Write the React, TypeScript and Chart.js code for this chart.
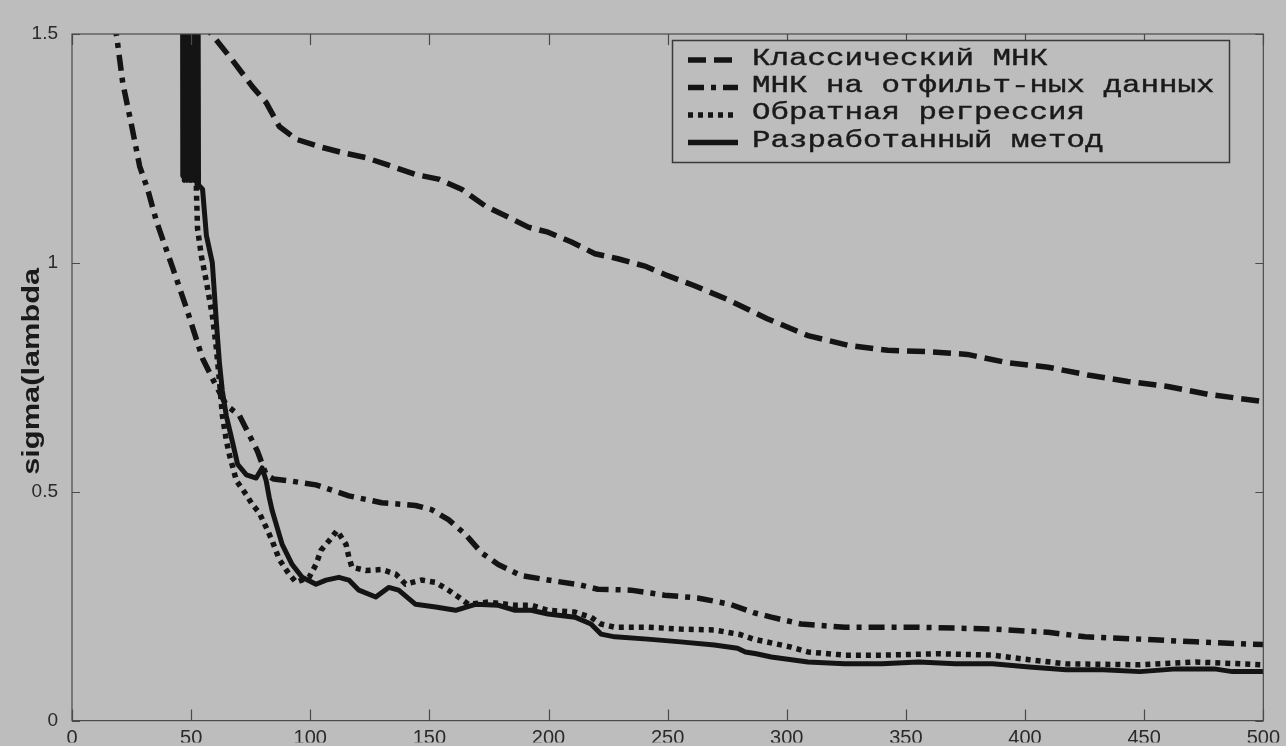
import React, { useEffect, useRef } from "react";
import { Chart, registerables } from "chart.js";

Chart.register(...registerables);

// ---- labels ----
const seriesLabels = [
  "Классический МНК",
  "МНК на отфильт-ных данных",
  "Обратная регрессия",
  "Разработанный метод",
];
const yAxisTitle = "sigma(lambda";

// ---- ticks ----
const xTickValues = [0, 50, 100, 150, 200, 250, 300, 350, 400, 450, 500];
const xTickLabels = ["0", "50", "100", "150", "200", "250", "300", "350", "400", "450", "500"];
const yTickValues = [0, 0.5, 1, 1.5];
const yTickLabels = ["0", "0.5", "1", "1.5"];

// ---- series: Классический МНК (dashed) ----
const classicX = [53.5, 58.5, 67.3, 75.7, 81.5, 87, 94.1, 103.7, 113.3, 123.3, 134.2, 144.2, 153.8, 163.5, 173.5, 183.1, 191.5, 199.8, 209.4, 219.5, 229.1, 240.4, 250, 261.3, 275.1, 291.8, 308.9, 325.7, 342.4, 359.1, 375.8, 392.6, 409.7, 426.4, 443.1, 459.9, 476.6, 500];
const classicY = [1.53, 1.5, 1.443, 1.385, 1.35, 1.298, 1.27, 1.254, 1.241, 1.23, 1.211, 1.193, 1.183, 1.161, 1.124, 1.1, 1.078, 1.067, 1.046, 1.02, 1.009, 0.993, 0.972, 0.95, 0.92, 0.878, 0.841, 0.82, 0.809, 0.806, 0.8, 0.782, 0.772, 0.755, 0.741, 0.73, 0.713, 0.697];

// ---- series: МНК на отфильт-ных данных (dash-dot) ----
const filteredX = [17.6, 18.8, 21.3, 25.1, 28.4, 31.8, 35.5, 42.2, 48.1, 54.8, 60.6, 64.8, 70.2, 74.4, 77.8, 81.5, 84.5, 91.1, 102.4, 116.2, 130, 144.2, 150.9, 158, 165.1, 171.8, 178.9, 188.5, 199.8, 213.6, 220.7, 234.5, 248.7, 262.5, 276.3, 286, 293.5, 306, 324.4, 355.4, 386.3, 409.7, 425.2, 448.2, 471.6, 500];
const filteredY = [1.53, 1.493, 1.393, 1.298, 1.211, 1.16, 1.09, 0.99, 0.9, 0.791, 0.73, 0.689, 0.667, 0.624, 0.589, 0.537, 0.528, 0.524, 0.515, 0.491, 0.476, 0.47, 0.461, 0.439, 0.407, 0.367, 0.341, 0.317, 0.307, 0.296, 0.287, 0.285, 0.274, 0.268, 0.254, 0.236, 0.226, 0.211, 0.204, 0.204, 0.2, 0.193, 0.183, 0.178, 0.172, 0.166];

// ---- series: Обратная регрессия (dotted) ----
const inverseX = [47.5, 48.2, 48.9, 49.6, 50.3, 51, 51.7, 52.2, 52.7, 54.3, 56.4, 58.9, 60.6, 61.9, 63.1, 64.8, 66.1, 69, 73.2, 75.7, 78.6, 81.5, 84, 87, 91.1, 94.1, 99.5, 102.4, 104.5, 107.9, 111.2, 115, 116.2, 117.5, 123.3, 130, 135.9, 140, 146.7, 152.6, 158, 162.2, 166.4, 174.7, 186, 192.7, 199.8, 211.1, 217.8, 222, 227.8, 241.6, 255.4, 269.6, 280.5, 286, 301.4, 308.9, 324.4, 339.9, 363.3, 386.3, 401.8, 417.2, 448.2, 471.6, 500];
const inverseY = [2.5, 1.22, 2.5, 1.2, 2.5, 1.2, 2.4, 1.16, 1.074, 1.015, 0.959, 0.885, 0.813, 0.741, 0.667, 0.611, 0.58, 0.524, 0.493, 0.472, 0.454, 0.422, 0.393, 0.352, 0.32, 0.302, 0.313, 0.341, 0.372, 0.393, 0.415, 0.385, 0.357, 0.335, 0.328, 0.33, 0.32, 0.298, 0.307, 0.302, 0.285, 0.27, 0.254, 0.259, 0.252, 0.252, 0.241, 0.237, 0.226, 0.211, 0.204, 0.204, 0.2, 0.198, 0.188, 0.178, 0.161, 0.15, 0.143, 0.143, 0.146, 0.143, 0.133, 0.124, 0.122, 0.128, 0.122];

// ---- series: Разработанный метод (solid) ----
const developedX = [46.2, 46.5, 46.8, 47.1, 47.4, 47.7, 48, 48.3, 48.6, 48.9, 49.2, 49.5, 49.8, 50.1, 50.4, 50.7, 51, 51.3, 51.6, 51.9, 52.2, 52.5, 52.8, 53.1, 54.8, 56.4, 58.9, 60.6, 61.9, 63.1, 64.8, 67.3, 69.5, 73.2, 77.3, 79.8, 81.5, 82.8, 84, 88.2, 92.4, 96.6, 102.4, 106.6, 112, 116.2, 120.4, 127.5, 132.9, 137.1, 144.2, 152.6, 161, 169.3, 178.9, 186, 192.7, 199.8, 211.1, 217.8, 222, 227.8, 241.6, 255.4, 269.6, 279.3, 282.6, 287.2, 293.5, 308.9, 324.4, 339.9, 355.4, 370.8, 386.3, 401.8, 417.2, 432.7, 448.2, 463.6, 479.5, 487, 500];
const developedY = [2.5, 1.19, 2.5, 1.18, 2.5, 1.2, 2.5, 1.18, 2.5, 1.19, 2.5, 1.18, 2.5, 1.18, 2.5, 1.19, 2.5, 1.18, 2.4, 1.18, 2.2, 1.17, 1.9, 1.17, 1.161, 1.06, 1.0, 0.87, 0.78, 0.72, 0.665, 0.61, 0.56, 0.537, 0.53, 0.552, 0.524, 0.487, 0.459, 0.385, 0.341, 0.313, 0.298, 0.307, 0.313, 0.307, 0.285, 0.27, 0.291, 0.285, 0.254, 0.248, 0.241, 0.254, 0.252, 0.241, 0.241, 0.233, 0.226, 0.211, 0.189, 0.183, 0.178, 0.172, 0.165, 0.158, 0.15, 0.146, 0.139, 0.128, 0.124, 0.124, 0.128, 0.124, 0.124, 0.117, 0.111, 0.111, 0.107, 0.113, 0.113, 0.107, 0.107];

const BG = "#bdbdbd";
const INK = "#141414";
const SOLID_DASH = [4000, 1];

const toPoints = (xs: number[], ys: number[]) => xs.map((x, i) => ({ x, y: ys[i] }));

const framePlugin = {
  id: "frameTicks",
  afterDatasetsDraw(chart: any) {
    const { ctx, chartArea, scales } = chart;
    const { left, right, top, bottom } = chartArea;
    ctx.save();
    ctx.strokeStyle = "#4a4a4a";
    ctx.lineWidth = 1.2;
    ctx.setLineDash([]);
    ctx.strokeRect(left, top, right - left, bottom - top);
    ctx.beginPath();
    for (const v of xTickValues) {
      const px = Math.round(scales.x.getPixelForValue(v)) + 0.5;
      ctx.moveTo(px, bottom);
      ctx.lineTo(px, bottom - 11);
      ctx.moveTo(px, top);
      ctx.lineTo(px, top + 11);
    }
    for (const v of yTickValues) {
      const py = Math.round(scales.y.getPixelForValue(v)) + 0.5;
      ctx.moveTo(left, py);
      ctx.lineTo(left + 8, py);
      ctx.moveTo(right, py);
      ctx.lineTo(right - 8, py);
    }
    ctx.stroke();
    ctx.restore();
  },
};

const yTitlePlugin = {
  id: "yTitle",
  afterDraw(chart: any) {
    const { ctx, chartArea } = chart;
    const cy = (chartArea.top + chartArea.bottom) / 2 - 6;
    ctx.save();
    ctx.translate(39, cy);
    ctx.rotate(-Math.PI / 2);
    ctx.font = 'bold 24px "Liberation Sans", Arial, sans-serif';
    const w = ctx.measureText(yAxisTitle).width;
    ctx.scale(207 / w, 1);
    ctx.textAlign = "center";
    ctx.textBaseline = "alphabetic";
    ctx.fillStyle = "#1a1a1a";
    ctx.fillText(yAxisTitle, 0, 0);
    ctx.restore();
  },
};

const legendPlugin = {
  id: "boxLegend",
  afterDraw(chart: any) {
    const { ctx } = chart;
    const datasets = chart.data.datasets;
    const bx = 672, by = 40, bw = 557, bh = 122;
    ctx.save();
    ctx.fillStyle = BG;
    ctx.fillRect(bx, by, bw, bh);
    ctx.strokeStyle = "#3a3a3a";
    ctx.lineWidth = 1.5;
    ctx.setLineDash([]);
    ctx.strokeRect(bx + 0.5, by + 0.5, bw, bh);
    ctx.font = '23px "Liberation Mono", "DejaVu Sans Mono", monospace';
    const charW = ctx.measureText("М").width;
    const sx = 18.5 / charW;
    datasets.forEach((ds: any, i: number) => {
      const ly = 60 + i * 27.5;
      ctx.beginPath();
      ctx.setLineDash(ds.borderDash || []);
      ctx.lineCap = "butt";
      ctx.lineWidth = 5.5;
      ctx.strokeStyle = INK;
      ctx.moveTo(688, ly);
      ctx.lineTo(738, ly);
      ctx.stroke();
      ctx.setLineDash([]);
      ctx.save();
      ctx.translate(752, 65 + i * 27.2);
      ctx.scale(sx, 1);
      ctx.fillStyle = "#1a1a1a";
      ctx.strokeStyle = "#1a1a1a";
      ctx.lineWidth = 0.4;
      ctx.textBaseline = "alphabetic";
      ctx.textAlign = "left";
      ctx.fillText(ds.label, 0, 0);
      ctx.strokeText(ds.label, 0, 0);
      ctx.restore();
    });
    ctx.restore();
  },
};

const bgPlugin = {
  id: "bg",
  beforeDraw(chart: any) {
    const { ctx, width, height } = chart;
    ctx.save();
    ctx.fillStyle = BG;
    ctx.fillRect(0, 0, width, height);
    ctx.restore();
  },
};

export default function App() {
  const ref = useRef<HTMLCanvasElement | null>(null);

  useEffect(() => {
    document.body.style.margin = "0";
    document.body.style.background = BG;
    const canvas = ref.current;
    if (!canvas) return;
    const common = {
      pointRadius: 0,
      borderColor: INK,
      backgroundColor: INK,
      fill: false,
      tension: 0,
      borderCapStyle: "butt" as const,
      borderJoinStyle: "round" as const,
      clip: 0,
    };
    const chart = new Chart(canvas, {
      type: "line",
      data: {
        datasets: [
          { ...common, label: seriesLabels[0], data: toPoints(classicX, classicY), borderWidth: 5.5, borderDash: [18, 8], order: 4 },
          { ...common, label: seriesLabels[1], data: toPoints(filteredX, filteredY), borderWidth: 5.5, borderDash: [16, 7, 5, 7], order: 3 },
          { ...common, label: seriesLabels[2], data: toPoints(inverseX, inverseY), borderWidth: 5.5, borderDash: [5, 5], order: 2 },
          { ...common, label: seriesLabels[3], data: toPoints(developedX, developedY), borderWidth: 5, borderDash: SOLID_DASH, order: 1 },
        ],
      },
      options: {
        animation: false,
        responsive: false,
        devicePixelRatio: 1,
        layout: { padding: { left: 0, right: 18, top: 34, bottom: 0 } },
        plugins: { legend: { display: false }, tooltip: { enabled: false } },
        scales: {
          x: {
            type: "linear",
            min: 0,
            max: 500,
            grid: { display: false, drawTicks: false },
            border: { display: false },
            afterBuildTicks: (scale: any) => {
              scale.ticks = xTickValues.map((v) => ({ value: v }));
            },
            afterFit: (scale: any) => {
              scale.height = 22;
            },
            ticks: {
              autoSkip: false,
              maxRotation: 0,
              padding: 6,
              color: "#2a2a2a",
              font: { family: '"Liberation Sans", Arial, sans-serif', size: 20 },
              callback: (v: any) => {
                const i = xTickValues.indexOf(Number(v));
                return i >= 0 ? xTickLabels[i] : "";
              },
            },
          },
          y: {
            type: "linear",
            min: 0,
            max: 1.5,
            grid: { display: false, drawTicks: false },
            border: { display: false },
            afterBuildTicks: (scale: any) => {
              scale.ticks = yTickValues.map((v) => ({ value: v }));
            },
            afterFit: (scale: any) => {
              scale.width = 72;
            },
            ticks: {
              padding: 14,
              color: "#2a2a2a",
              font: { family: '"Liberation Sans", Arial, sans-serif', size: 19 },
              callback: (v: any) => {
                const i = yTickValues.indexOf(Number(v));
                return i >= 0 ? yTickLabels[i] : "";
              },
            },
          },
        },
      },
      plugins: [bgPlugin, framePlugin, yTitlePlugin, legendPlugin],
    });
    return () => chart.destroy();
  }, []);

  return (
    <div style={{ width: 1286, height: 746, background: BG, overflow: "hidden" }}>
      <canvas ref={ref} width={1286} height={746} style={{ display: "block" }} />
    </div>
  );
}
